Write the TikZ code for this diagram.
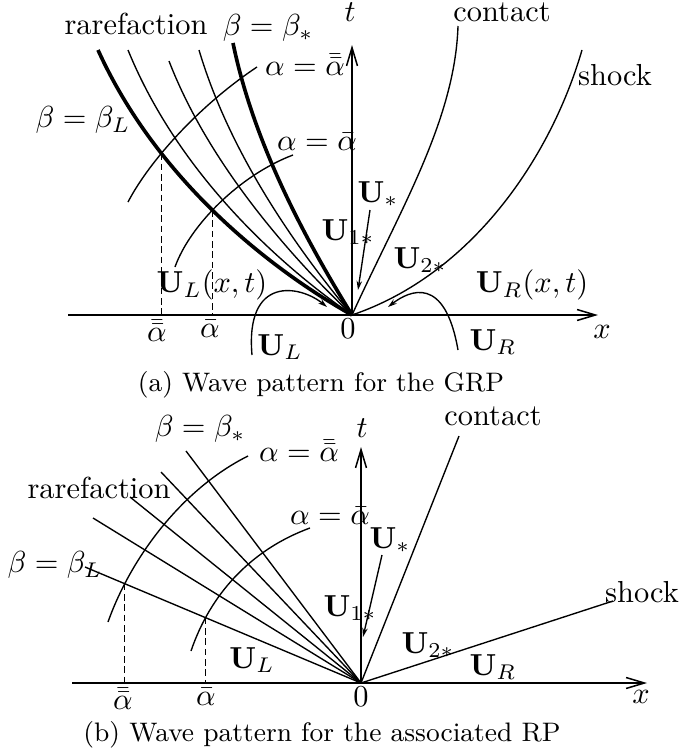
\documentclass[tikz,border=0pt]{standalone}
\usetikzlibrary{arrows.meta,intersections}
\begin{document}
\begin{tikzpicture}[x=0.329pt,y=-0.329pt,
  thinln/.style={line width=0.45pt},
  thickln/.style={line width=1.2pt},
  axisln/.style={line width=0.5pt,-{Straight Barb[length=6pt,width=3.6pt]}},
  ptr/.style={line width=0.45pt,-{Stealth[length=3pt,width=1.8pt]}},
  dashln/.style={line width=0.45pt,dash pattern=on 2.2pt off 1.2pt},
  lbl/.style={inner sep=0pt},
  capt/.style={inner sep=0pt,font=\fontsize{8.8}{10.5}\selectfont}
]
\useasboundingbox (0,0) rectangle (681,752);

% ---------------- Panel (a) ----------------
\coordinate (Oa) at (352,315);
\coordinate (xa0) at (68,315);
\coordinate (xa1) at (598,315);
\coordinate (ta1) at (352,45);
\draw[axisln] (xa0) -- (xa1);
\draw[axisln] (Oa) -- (ta1);

% rarefaction fan
\coordinate (bLa) at (98,50);
\coordinate (r1a) at (128,50);
\coordinate (r2a) at (169,61);
\coordinate (r3a) at (199,50);
\coordinate (bSa) at (233,43);
\draw[thickln,name path=bLpathA] (bLa) .. controls (158,182) and (272,270) .. (Oa);
\draw[thinln] (r1a) .. controls (179,175) and (281,266) .. (Oa);
\draw[thinln] (r2a) .. controls (209,165) and (293,259) .. (Oa);
\draw[thinln] (r3a) .. controls (231,158) and (302,255) .. (Oa);
\draw[thickln] (bSa) .. controls (255,150) and (312,250) .. (Oa);

% contact and shock
\coordinate (ca) at (458,26);
\coordinate (sa) at (582,50);
\draw[thinln] (Oa) .. controls (400,210) and (455,120) .. (ca);
\draw[thinln] (Oa) .. controls (470,275) and (550,160) .. (sa);

% alpha curves
\coordinate (a1s) at (128,202);
\coordinate (a1e) at (257,67);
\coordinate (a2s) at (175,267);
\coordinate (a2e) at (293,155);
\draw[thinln,name path=a1pathA] (a1s) .. controls (150,160) and (200,105) .. (a1e);
\draw[thinln,name path=a2pathA] (a2s) .. controls (190,225) and (240,175) .. (a2e);
\path[name intersections={of=bLpathA and a1pathA,by=I1a}];
\path[name intersections={of=bLpathA and a2pathA,by=I2a}];
\coordinate (D1a) at (I1a |- Oa);
\coordinate (D2a) at (I2a |- Oa);
\draw[dashln] (I1a) -- (D1a);
\draw[dashln] (I2a) -- (D2a);

% labels (a)
\node[lbl] (rarA) at (136,24) {rarefaction};
\node[lbl] (bSA) at (268,28) {$\beta=\beta_*$};
\node[lbl] (bLA) at (83,120) {$\beta=\beta_L$};
\node[lbl] (a1A) at (305,65) {$\alpha=\bar{\bar{\alpha}}$};
\node[lbl] (a2A) at (317,142) {$\alpha=\bar{\alpha}$};
\node[lbl] (tA) at (350,12) {$t$};
\node[lbl] (conA) at (502,12) {contact};
\node[lbl] (shA) at (615,75) {shock};
\node[lbl] (UsA) at (378,194) {$\mathbf{U}_*$};
\node[lbl] (U1A) at (348,232) {$\mathbf{U}_{1*}$};
\node[lbl] (U2A) at (420,260) {$\mathbf{U}_{2*}$};
\node[lbl] (ULxA) at (212,285) {$\mathbf{U}_L(x,t)$};
\node[lbl] (URxA) at (532,285) {$\mathbf{U}_R(x,t)$};
\node[lbl] (ULA) at (280,347) {$\mathbf{U}_L$};
\node[lbl] (URA) at (493,342) {$\mathbf{U}_R$};
\node[lbl] (aaA) at (157,331) {$\bar{\bar{\alpha}}$};
\node[lbl] (a0A) at (210,329) {$\bar{\alpha}$};
\node[lbl] (zA) at (348,329) {$0$};
\node[lbl] (xA) at (602,332) {$x$};
\node[capt] (capA) at (321,385) {(a) Wave pattern for the GRP};

% pointers (a)
\coordinate (pUs0) at (370,210);
\coordinate (pUs1) at (358,290);
\draw[ptr] (pUs0) -- (pUs1);
\coordinate (pL0) at (252,355);
\coordinate (pL1) at (327,307);
\draw[ptr] (pL0) .. controls (245,275) and (300,285) .. (pL1);
\coordinate (pR0) at (458,350);
\coordinate (pR1) at (388,307);
\draw[ptr] (pR0) .. controls (445,275) and (410,290) .. (pR1);

% ---------------- Panel (b) ----------------
\coordinate (Ob) at (361,683);
\coordinate (xb0) at (72,683);
\coordinate (xb1) at (647,683);
\coordinate (tb1) at (361,447);
\draw[axisln] (xb0) -- (xb1);
\draw[axisln] (Ob) -- (tb1);

\coordinate (bLb) at (85,567);
\coordinate (r1b) at (93,518);
\coordinate (r2b) at (130,497);
\coordinate (r3b) at (161,472);
\coordinate (bSb) at (186,451);
\draw[thinln,name path=bLpathB] (bLb) -- (Ob);
\draw[thinln] (r1b) -- (Ob);
\draw[thinln] (r2b) -- (Ob);
\draw[thinln] (r3b) -- (Ob);
\draw[thinln] (bSb) -- (Ob);

\coordinate (cb) at (459,436);
\coordinate (sb) at (613,601);
\draw[thinln] (Ob) -- (cb);
\draw[thinln] (Ob) -- (sb);

\coordinate (a1sb) at (108,622);
\coordinate (a1eb) at (248,456);
\coordinate (a2sb) at (191,651);
\coordinate (a2eb) at (310,528);
\draw[thinln,name path=a1pathB] (a1sb) .. controls (130,560) and (180,490) .. (a1eb);
\draw[thinln,name path=a2pathB] (a2sb) .. controls (210,595) and (250,550) .. (a2eb);
\path[name intersections={of=bLpathB and a1pathB,by=I1b}];
\path[name intersections={of=bLpathB and a2pathB,by=I2b}];
\coordinate (D1b) at (I1b |- Ob);
\coordinate (D2b) at (I2b |- Ob);
\draw[dashln] (I1b) -- (D1b);
\draw[dashln] (I2b) -- (D2b);

\node[lbl] (bSB) at (200,429) {$\beta=\beta_*$};
\node[lbl] (a1B) at (299,451) {$\alpha=\bar{\bar{\alpha}}$};
\node[lbl] (rarB) at (99,488) {rarefaction};
\node[lbl] (a2B) at (330,516) {$\alpha=\bar{\alpha}$};
\node[lbl] (bLB) at (55,565) {$\beta=\beta_L$};
\node[lbl] (tB) at (362,428) {$t$};
\node[lbl] (conB) at (493,416) {contact};
\node[lbl] (shB) at (642,592) {shock};
\node[lbl] (UsB) at (390,540) {$\mathbf{U}_*$};
\node[lbl] (U1B) at (350,608) {$\mathbf{U}_{1*}$};
\node[lbl] (U2B) at (428,645) {$\mathbf{U}_{2*}$};
\node[lbl] (ULB) at (252,660) {$\mathbf{U}_L$};
\node[lbl] (URB) at (493,667) {$\mathbf{U}_R$};
\node[lbl] (aaB) at (123,699) {$\bar{\bar{\alpha}}$};
\node[lbl] (a0B) at (206,697) {$\bar{\alpha}$};
\node[lbl] (zB) at (361,697) {$0$};
\node[lbl] (xB) at (641,697) {$x$};
\node[capt] (capB) at (322,735) {(b) Wave pattern for the associated RP};

\coordinate (pUsb0) at (382,555);
\coordinate (pUsb1) at (363,637);
\draw[ptr] (pUsb0) -- (pUsb1);
\end{tikzpicture}
\end{document}
